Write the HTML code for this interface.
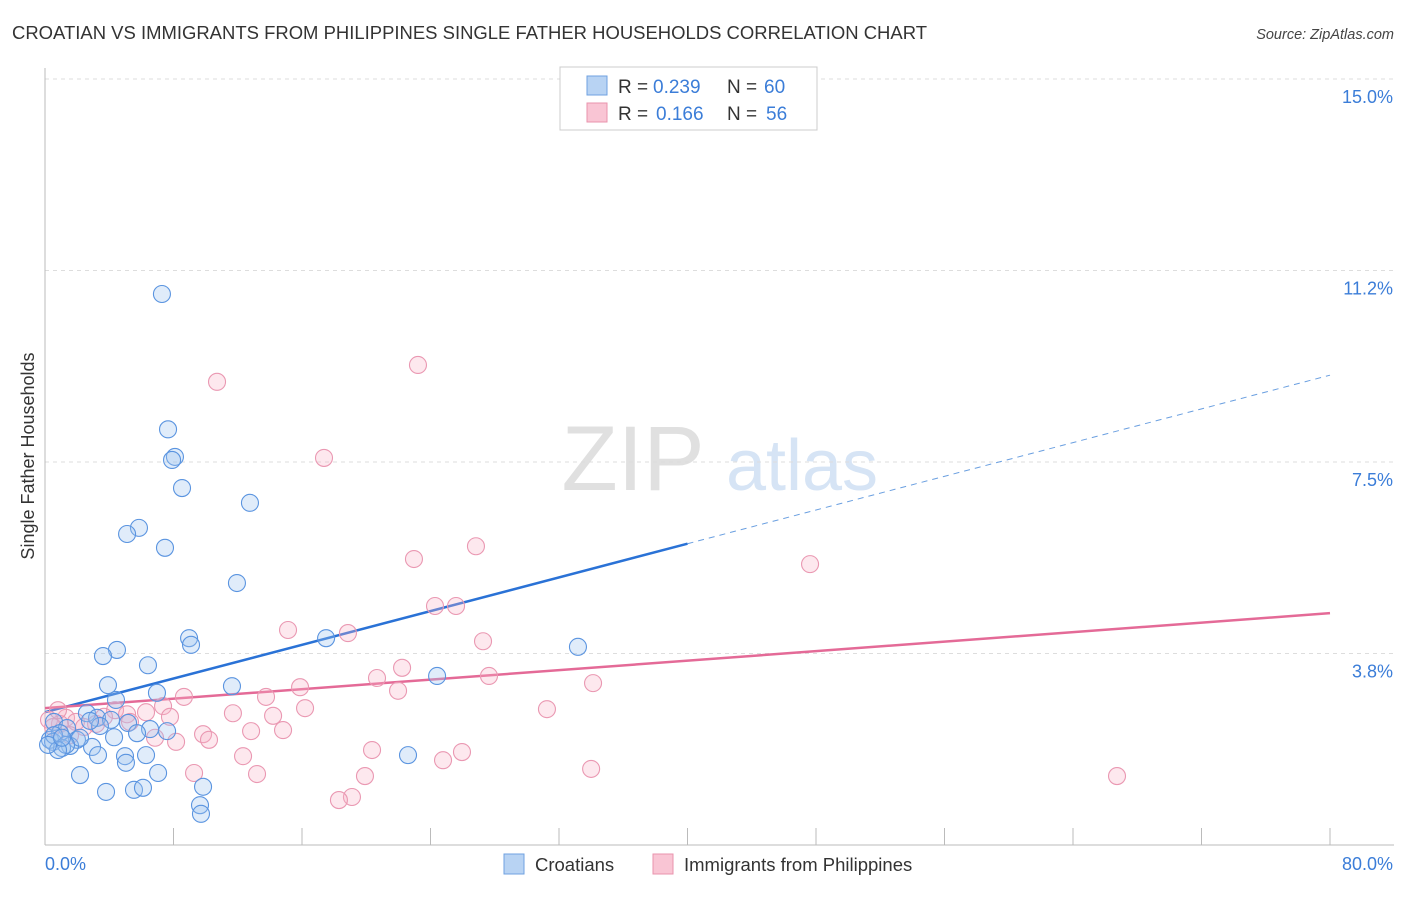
<!DOCTYPE html>
<html><head><meta charset="utf-8"><style>
body{margin:0;background:#fff;font-family:"Liberation Sans",sans-serif;}
svg text{font-family:"Liberation Sans",sans-serif;}
</style></head><body>
<svg id="chart" width="1406" height="892" xmlns="http://www.w3.org/2000/svg">
<text x="12" y="39" font-size="18" fill="#333" textLength="915" lengthAdjust="spacingAndGlyphs">CROATIAN VS IMMIGRANTS FROM PHILIPPINES SINGLE FATHER HOUSEHOLDS CORRELATION CHART</text>
<text x="1394" y="39" font-size="14.5" fill="#444" text-anchor="end" font-style="italic">Source: ZipAtlas.com</text>
<g>
<text x="633" y="490" font-size="92" fill="#e0e0e0" font-family="Liberation Serif" text-anchor="middle">ZIP</text>
<text x="802" y="490" font-size="72" fill="#d6e4f5" text-anchor="middle">atlas</text>
</g>
<g id="grid"></g>
<g id="axes"></g>
<g id="lines"></g>
<g id="pts"></g>
<text transform="translate(34,456) rotate(-90)" font-size="18" fill="#333" text-anchor="middle">Single Father Households</text>
<g>
<rect x="560" y="67" width="257" height="63" fill="#fff" stroke="#ccc"/>
<rect x="587" y="76" width="20" height="19" fill="#b8d3f3" stroke="#6fa1e0"/>
<rect x="587" y="103" width="20" height="19" fill="#f9c5d4" stroke="#e993ad"/>
<text x="618" y="93" font-size="19" fill="#333">R =</text>
<text x="653" y="93" font-size="19" fill="#3b7dd8">0.239</text>
<text x="727" y="93" font-size="19" fill="#333">N =</text>
<text x="764" y="93" font-size="19" fill="#3b7dd8">60</text>
<text x="618" y="120" font-size="19" fill="#333">R =</text>
<text x="656" y="120" font-size="19" fill="#3b7dd8">0.166</text>
<text x="727" y="120" font-size="19" fill="#333">N =</text>
<text x="766" y="120" font-size="19" fill="#3b7dd8">56</text>
</g>
<g>
<rect x="504" y="854" width="20" height="20" fill="#b8d3f3" stroke="#6fa1e0"/>
<text x="535" y="871" font-size="18.5" fill="#333">Croatians</text>
<rect x="653" y="854" width="20" height="20" fill="#f9c5d4" stroke="#e993ad"/>
<text x="684" y="871" font-size="18.5" fill="#333">Immigrants from Philippines</text>
</g>
</svg>
<script>
const blueX=[7.28,7.66,8.09,7.91,8.53,12.76,5.85,5.11,7.47,11.95,8.97,9.09,17.50,33.18,4.48,3.61,6.41,3.92,11.64,6.97,24.41,4.42,2.61,3.24,4.11,0.56,5.17,1.37,6.54,7.60,5.73,4.30,0.93,1.99,0.31,0.50,2.93,1.56,1.06,4.98,3.30,22.60,6.29,5.04,2.18,7.04,9.84,3.80,5.54,6.10,9.65,9.71,2.18,3.42,2.80,0.56,1.31,0.81,0.19,1.06];
const blueY=[10.79,8.14,7.60,7.54,6.99,6.70,6.21,6.09,5.82,5.13,4.05,3.92,4.05,3.88,3.82,3.70,3.52,3.13,3.11,2.98,3.31,2.84,2.58,2.49,2.45,2.41,2.39,2.29,2.27,2.23,2.19,2.11,2.19,2.06,2.06,2.02,1.92,1.94,1.90,1.74,1.76,1.76,1.76,1.61,1.37,1.41,1.14,1.04,1.08,1.12,0.78,0.61,2.10,2.33,2.43,2.15,1.96,1.86,1.96,2.10];
const pinkX=[23.22,10.71,17.37,26.83,22.97,47.63,24.28,25.59,15.13,18.86,27.27,22.23,20.67,27.64,34.12,15.88,21.98,8.65,13.76,16.19,7.35,31.25,11.70,4.36,14.20,6.29,7.78,5.11,3.67,1.31,1.93,0.93,2.43,14.82,12.83,9.84,6.85,10.21,8.16,0.25,0.50,20.36,25.96,12.33,24.78,9.28,13.20,19.92,34.00,66.74,19.11,18.30,5.29,3.18,1.56,0.81];
const pinkY=[9.40,9.07,7.58,5.85,5.60,5.50,4.68,4.68,4.21,4.15,3.99,3.47,3.27,3.31,3.17,3.09,3.02,2.90,2.90,2.68,2.72,2.66,2.58,2.64,2.53,2.60,2.51,2.56,2.51,2.49,2.41,2.37,2.31,2.25,2.23,2.17,2.10,2.06,2.02,2.45,2.31,1.86,1.82,1.74,1.66,1.41,1.39,1.35,1.49,1.35,0.94,0.88,2.41,2.37,2.15,2.64];
const yTicks=[15.0,11.25,7.5,3.75];
const yTickLabels=["15.0%","11.2%","7.5%","3.8%"];
const xTicks=[0,8,16,24,32,40,48,56,64,72,80];
const blueTrend=[2.60,9.20];
const blueSolidEnd=40;
const pinkTrend=[2.68,4.54];
const NS='http://www.w3.org/2000/svg';
const X0=45,X1=1330,Y0=845,Ytop=79;
function sx(v){return X0+(v/80)*(X1-X0);}
function sy(v){return Y0-(v/15)*(Y0-Ytop);}
function mk(tag,attrs,parent){const e=document.createElementNS(NS,tag);for(const k in attrs)e.setAttribute(k,attrs[k]);parent.appendChild(e);return e;}
const grid=document.getElementById('grid'),axes=document.getElementById('axes'),lines=document.getElementById('lines'),pts=document.getElementById('pts');
yTicks.forEach((t,i)=>{
 const yy=sy(t);
 const g=mk('line',{x1:X0,x2:1394,y1:yy,y2:yy,stroke:'#ddd','stroke-dasharray':'4,4'},grid);
 
 
 const tx=mk('text',{x:1393,y:yy+24,'font-size':18,fill:'#3b7dd8','text-anchor':'end'},axes);
 tx.textContent=yTickLabels[i];
 
 
});
mk('line',{x1:X0,x2:X0,y1:68,y2:Y0,stroke:'#bbb'},axes);
mk('line',{x1:X0,x2:1394,y1:Y0,y2:Y0,stroke:'#bbb'},axes);
xTicks.forEach(t=>{
 const l=mk('line',{x1:sx(t),x2:sx(t),y1:Y0,y2:828,stroke:'#bbb'},axes);
 
 
});
const xl=mk('text',{x:45,y:870,'font-size':18,fill:'#3b7dd8'},axes);xl.textContent='0.0%';


const xr=mk('text',{x:1393,y:870,'font-size':18,fill:'#3b7dd8','text-anchor':'end'},axes);xr.textContent='80.0%';


function dot(x,y,fill,stroke,name){
 const c=mk('circle',{cx:sx(x),cy:sy(y),r:8.5,fill:fill,stroke:stroke,'stroke-width':1.1},pts);
 
 
}
pinkX.forEach((x,i)=>dot(x,pinkY[i],'rgba(249,180,200,0.3)','#ea98b2','philippines-point'));
blueX.forEach((x,i)=>dot(x,blueY[i],'rgba(160,196,240,0.32)','#5a94e0','croatian-point'));
const bAt=x=>blueTrend[0]+(blueTrend[1]-blueTrend[0])*x/80;
const b1=mk('line',{x1:sx(0),y1:sy(bAt(0)),x2:sx(blueSolidEnd),y2:sy(bAt(blueSolidEnd)),stroke:'#2a72d6','stroke-width':2.5},lines);


const b2=mk('line',{x1:sx(blueSolidEnd),y1:sy(bAt(blueSolidEnd)),x2:sx(80),y2:sy(bAt(80)),stroke:'#6a9fe0','stroke-width':1,'stroke-dasharray':'6,5'},lines);


const p1=mk('line',{x1:sx(0),y1:sy(pinkTrend[0]),x2:sx(80),y2:sy(pinkTrend[1]),stroke:'#e46a97','stroke-width':2.5},lines);


</script>
</body></html>
